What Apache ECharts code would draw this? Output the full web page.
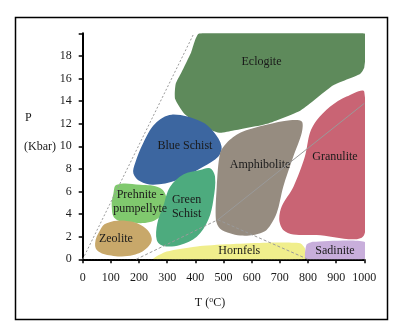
<!DOCTYPE html>
<html>
<head>
<meta charset="utf-8">
<script src="https://cdn.jsdelivr.net/npm/echarts@6/dist/echarts.min.js"></script>
<style>
  html, body { margin: 0; padding: 0; background: #fff; }
  #chart { width: 400px; height: 322px; }
</style>
</head>
<body>
<div id="chart"></div>
<script>
// Metamorphic facies in pressure–temperature space
const xTicks = [0, 100, 200, 300, 400, 500, 600, 700, 800, 900, 1000];
const yTicks = [0, 2, 4, 6, 8, 10, 12, 14, 16, 18];

const faciesNames = ['Eclogite', 'Blue Schist', 'Amphibolite', 'Granulite',
  'Prehnite -\npumpellyte', 'Green\nSchist', 'Zeolite', 'Hornfels', 'Sadinite'];

// Field outlines as [T (°C), P (kbar)] vertices
const eclogite = [[415, 20], [1000, 20], [1000, 17], [985, 16.4], [890, 15.4], [775, 13.2],
  [655, 12], [535, 11.4], [485, 11.2], [420, 11.8], [360, 12.9], [328, 14.2], [330, 15.5],
  [350, 16.5], [385, 18.3]];
const blueSchist = [[316, 12.8], [420, 12.2], [464, 11.3], [493, 10.0], [482, 9.1], [428, 8.2],
  [334, 7.0], [251, 6.6], [204, 6.9], [180, 7.6], [186, 8.5], [215, 10.3], [257, 12.0]];
const amphibolite = [[778, 12.2], [778, 11.2], [748, 9.1], [712, 6.4], [689, 4.1], [653, 2.6],
  [606, 2.15], [559, 2.1], [523, 2.3], [488, 2.7], [473, 3.5], [476, 6.4], [488, 9.4],
  [511, 10.3], [559, 11.2], [653, 11.9], [736, 12.3]];
const granulite = [[1000, 14.8], [937, 14.4], [878, 13.5], [831, 12.3], [807, 11.2], [789, 9.1],
  [748, 6.4], [707, 4.7], [698, 3.5], [712, 2.6], [748, 2.2], [831, 2.15], [1000, 2.2]];
const prehnite = [[121, 6.6], [204, 6.6], [275, 6.3], [298, 5.3], [286, 4.1], [239, 3.3],
  [156, 3.3], [115, 3.6], [103, 4.7], [109, 5.8]];
const greenSchist = [[452, 8.05], [470, 7.3], [464, 5.25], [446, 3.5], [405, 2.0], [346, 1.27],
  [286, 1.18], [263, 1.7], [265, 3.2], [286, 4.7], [310, 6.4], [357, 7.5], [417, 7.9]];
const zeolite = [[85, 3.2], [156, 3.4], [215, 2.9], [245, 1.86], [227, 0.97], [180, 0.38],
  [109, 0.3], [56, 0.68], [44, 1.4], [62, 2.6]];
const hornfels = [[251, 0], [298, 0.68], [417, 1.18], [535, 1.36], [653, 1.47], [772, 1.42],
  [789, 0.97], [789, 0]];
const sadinite = [[795, 1.3], [819, 1.56], [1000, 1.56], [1000, 0], [793, 0]];

// Where each field's name sits [T, P]
const labelPos = [[635, 17.5], [363, 10.05], [630, 8.35], [896, 9.1], [204, 5.1],
  [369, 4.6], [118, 1.8], [556, 0.77], [896, 0.77]];

// Facies boundary lines
const boundaryA = [[0, 0], [395, 20]];
const boundaryB = [[190, 0], [480, 3.5]];
const boundaryC = [[480, 3.5], [1000, 13.8]];
const boundaryD = [[480, 3.5], [800, 0]];

const outlines = [eclogite, blueSchist, amphibolite, granulite, prehnite, greenSchist,
  zeolite, hornfels, sadinite];
const colors = ['#5e8a5b', '#3c66a0', '#968c80', '#c96474', '#80c96e', '#4dab7e',
  '#c8a86a', '#f0ee8c', '#c8aedb'];
const smoothness = [0.18, 0.35, 0.3, 0.3, 0.4, 0.35, 0.4, 0.2, 0.2];

const chart = echarts.init(document.getElementById('chart'), null, { renderer: 'canvas' });

const FONT = 'Liberation Serif, "Times New Roman", serif';

function faciesItem(params, api) {
  const i = api.value(0);
  const pts = outlines[i].map(p => api.coord(p));
  const c = api.coord(labelPos[i]);
  return {
    type: 'group',
    children: [
      {
        type: 'polygon',
        shape: { points: pts, smooth: smoothness[i] },
        style: { fill: colors[i] },
        z2: 1
      },
      {
        type: 'text',
        x: c[0], y: c[1],
        style: {
          text: faciesNames[i],
          font: '12px ' + FONT,
          fill: '#1a1a1a',
          align: 'center', verticalAlign: 'middle',
          textAlign: 'center', textVerticalAlign: 'middle',
          lineHeight: 14
        },
        z2: 20
      }
    ]
  };
}

function boundary(data, type) {
  return {
    type: 'line',
    data: data,
    symbol: 'none',
    silent: true,
    z: 5,
    lineStyle: { color: '#9a9a9a', width: 1, type: type }
  };
}

chart.setOption({
  animation: false,
  backgroundColor: '#fff',
  grid: { left: 82.7, right: 35.7, top: 33.3, bottom: 62.7 },
  xAxis: {
    type: 'value', min: 0, max: 1000, interval: 100,
    splitLine: { show: false },
    axisLine: { onZero: false, lineStyle: { color: '#000', width: 2, type: [2, 1] } },
    axisTick: { show: true, length: 4, lineStyle: { color: '#000', width: 1.5 } },
    axisLabel: { color: '#1a1a1a', fontFamily: FONT, fontSize: 12, margin: 13,
      formatter: v => xTicks.indexOf(v) >= 0 ? String(v) : '' }
  },
  yAxis: {
    type: 'value', min: 0, max: 20, interval: 2,
    splitLine: { show: false },
    axisLine: { show: true, onZero: false, lineStyle: { color: '#000', width: 2 } },
    axisTick: { show: true, length: 4, lineStyle: { color: '#000', width: 1.5 } },
    axisLabel: { color: '#1a1a1a', fontFamily: FONT, fontSize: 12, margin: 11,
      formatter: v => yTicks.indexOf(v) >= 0 ? String(v) : '' }
  },
  graphic: [
    { type: 'rect', shape: { x: 15.5, y: 17.5, width: 372, height: 302 },
      style: { fill: 'none', stroke: '#000', lineWidth: 1.5 }, z: -1 },
    { type: 'text', x: 25, y: 118,
      style: { text: 'P', font: '12px ' + FONT, fill: '#1a1a1a',
        align: 'left', verticalAlign: 'middle' } },
    { type: 'text', x: 24, y: 147,
      style: { text: '(Kbar)', font: '12px ' + FONT, fill: '#1a1a1a',
        align: 'left', verticalAlign: 'middle' } },
    { type: 'text', x: 210, y: 303,
      style: {
        text: '{n|T (}{s|o}{n|C)}',
        align: 'center', verticalAlign: 'middle',
        rich: {
          n: { font: '12px ' + FONT, fill: '#1a1a1a' },
          s: { font: '8px ' + FONT, fill: '#1a1a1a', verticalAlign: 'top', padding: [0, 0, 6, 0] }
        }
      } }
  ],
  series: [
    {
      type: 'custom',
      renderItem: faciesItem,
      clip: true,
      z: 2,
      data: outlines.map((_, i) => [i])
    },
    boundary(boundaryA, [2, 2]),
    boundary(boundaryB, [3, 2]),
    boundary(boundaryC, 'solid'),
    boundary(boundaryD, [3, 2])
  ]
});
</script>
</body>
</html>
